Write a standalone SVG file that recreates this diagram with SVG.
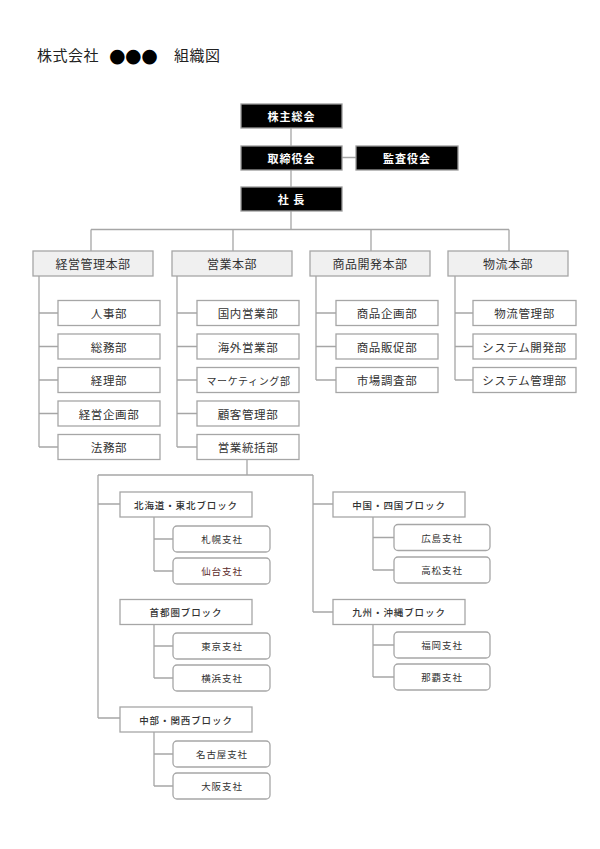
<svg xmlns="http://www.w3.org/2000/svg" width="600" height="849" viewBox="0 0 600 849">
<style>
text{font-family:"Noto Sans CJK JP","Noto Sans",sans-serif;text-anchor:middle;dominant-baseline:central;fill:#333}
.title{text-anchor:start;font-size:15px;fill:#222;dominant-baseline:auto;letter-spacing:0.5px}
.top rect{fill:#000;stroke:#9a9a9a;stroke-width:1.3}
.top text{fill:#fff;font-weight:bold;font-size:11px;letter-spacing:1px}
.dept rect{fill:#f0f0f0;stroke:#a6a6a6;stroke-width:1.3}
.dept text{font-size:12px;letter-spacing:0.5px}
.sub rect{fill:#fff;stroke:#a6a6a6;stroke-width:1.3}
.sub text{font-size:11.5px;letter-spacing:0.6px}
.blk rect{fill:#fff;stroke:#a6a6a6;stroke-width:1.3}
.blk text{font-size:9.5px;letter-spacing:0.9px;font-weight:500}
.br rect{fill:#fff;stroke:#a6a6a6;stroke-width:1.3}
.br text{font-size:9.5px;letter-spacing:0.9px}
#connectors path{fill:none;stroke:#a6a6a6;stroke-width:1.3}
</style>
<text class="title" y="61"><tspan x="37">株式会社</tspan><tspan x="109" y="62" style="font-family:'DejaVu Sans',sans-serif;font-size:19px;letter-spacing:-0.5px;fill:#000">●●●</tspan><tspan x="174" y="61">組織図</tspan></text>

<g id="connectors">
<path d="M291 128V146M342 157.5H356M291 170V187M291 211V229.5M91 229.5H509M91 229.5V251M233 229.5V251M371 229.5V251M509 229.5V251"/>
<path d="M39 276V447M39 313H58M39 346.5H58M39 380H58M39 413.5H58M39 447H58"/>
<path d="M177 276V447M177 313H197M177 346.5H197M177 380H197M177 413.5H197M177 447H197"/>
<path d="M316 276V380M316 313H336M316 346.5H336M316 380H336"/>
<path d="M455 276V380M455 313H473M455 346.5H473M455 380H473"/>
<path d="M247 459.5V475M98 475H313M98 475V718M98 504H120M98 718H120M313 475V612M313 504H333M313 612H333"/>
<path d="M154 517V571M154 539H173M154 571H173"/>
<path d="M154 624.5V678M154 646H173M154 678H173"/>
<path d="M154 732V786M154 754H173M154 786H173"/>
<path d="M373 517V570M373 537.5H394M373 570H394"/>
<path d="M373 624.5V677M373 645H394M373 677H394"/>
</g>

<g id="n-kabunushi" class="top"><rect x="241" y="104" width="101" height="24"/><text x="291.5" y="116">株主総会</text></g>
<g id="n-torishimari" class="top"><rect x="241" y="146" width="101" height="24"/><text x="291.5" y="158">取締役会</text></g>
<g id="n-kansa" class="top"><rect x="356" y="146" width="102" height="24"/><text x="407" y="158">監査役会</text></g>
<g id="n-shacho" class="top"><rect x="241" y="187" width="101" height="24"/><text x="291.5" y="199" xml:space="preserve">社 長</text></g>

<g id="n-keiei" class="dept"><rect x="33" y="251" width="120" height="25"/><text x="93" y="263.5">経営管理本部</text></g>
<g id="n-eigyo" class="dept"><rect x="172" y="251" width="120" height="25"/><text x="232" y="263.5">営業本部</text></g>
<g id="n-shohin" class="dept"><rect x="310" y="251" width="120" height="25"/><text x="370" y="263.5">商品開発本部</text></g>
<g id="n-butsuryu" class="dept"><rect x="448" y="251" width="120" height="25"/><text x="508" y="263.5">物流本部</text></g>

<g id="n-jinji" class="sub"><rect x="58" y="300.5" width="102" height="25"/><text x="109" y="313">人事部</text></g>
<g id="n-somu" class="sub"><rect x="58" y="334" width="102" height="25"/><text x="109" y="346.5">総務部</text></g>
<g id="n-keiri" class="sub"><rect x="58" y="367.5" width="102" height="25"/><text x="109" y="380">経理部</text></g>
<g id="n-keieikikaku" class="sub"><rect x="58" y="401" width="102" height="25"/><text x="109" y="413.5">経営企画部</text></g>
<g id="n-homu" class="sub"><rect x="58" y="434.5" width="102" height="25"/><text x="109" y="447">法務部</text></g>

<g id="n-kokunai" class="sub"><rect x="197" y="300.5" width="102" height="25"/><text x="248" y="313">国内営業部</text></g>
<g id="n-kaigai" class="sub"><rect x="197" y="334" width="102" height="25"/><text x="248" y="346.5">海外営業部</text></g>
<g id="n-marketing" class="sub"><rect x="197" y="367.5" width="102" height="25"/><text x="248.5" y="380" style="font-size:10px;letter-spacing:0.6px">マーケティング部</text></g>
<g id="n-kokyaku" class="sub"><rect x="197" y="401" width="102" height="25"/><text x="248" y="413.5">顧客管理部</text></g>
<g id="n-tokatsu" class="sub"><rect x="197" y="434.5" width="102" height="25"/><text x="248" y="447">営業統括部</text></g>

<g id="n-shohinkikaku" class="sub"><rect x="336" y="300.5" width="102" height="25"/><text x="387" y="313">商品企画部</text></g>
<g id="n-hansoku" class="sub"><rect x="336" y="334" width="102" height="25"/><text x="387" y="346.5">商品販促部</text></g>
<g id="n-chosa" class="sub"><rect x="336" y="367.5" width="102" height="25"/><text x="387" y="380">市場調査部</text></g>

<g id="n-butsuryukanri" class="sub"><rect x="473" y="300.5" width="103" height="25"/><text x="524.5" y="313">物流管理部</text></g>
<g id="n-syskaihatsu" class="sub"><rect x="473" y="334" width="103" height="25"/><text x="524.5" y="346.5">システム開発部</text></g>
<g id="n-syskanri" class="sub"><rect x="473" y="367.5" width="103" height="25"/><text x="524.5" y="380">システム管理部</text></g>

<g id="n-hokkaido" class="blk"><rect x="120" y="492" width="132" height="25"/><text x="186" y="504.5">北海道・東北ブロック</text></g>
<g id="n-shutoken" class="blk"><rect x="120" y="599.5" width="132" height="25"/><text x="186" y="612">首都圏ブロック</text></g>
<g id="n-chubu" class="blk"><rect x="120" y="707" width="132" height="25"/><text x="186" y="719.5">中部・関西ブロック</text></g>
<g id="n-chugoku" class="blk"><rect x="333" y="492" width="132" height="25"/><text x="399" y="504.5">中国・四国ブロック</text></g>
<g id="n-kyushu" class="blk"><rect x="333" y="599.5" width="132" height="25"/><text x="399" y="612">九州・沖縄ブロック</text></g>

<g id="n-sapporo" class="br"><rect x="173" y="526" width="97" height="26" rx="4"/><text x="222" y="539">札幌支社</text></g>
<g id="n-sendai" class="br"><rect x="173" y="558" width="97" height="26" rx="4"/><text x="222" y="571" style="fill:#5a2a2a">仙台支社</text></g>
<g id="n-tokyo" class="br"><rect x="173" y="633" width="97" height="26" rx="4"/><text x="222" y="646">東京支社</text></g>
<g id="n-yokohama" class="br"><rect x="173" y="665" width="97" height="26" rx="4"/><text x="222" y="678">横浜支社</text></g>
<g id="n-nagoya" class="br"><rect x="173" y="741" width="97" height="26" rx="4"/><text x="222" y="754">名古屋支社</text></g>
<g id="n-osaka" class="br"><rect x="173" y="773" width="97" height="26" rx="4"/><text x="222" y="786">大阪支社</text></g>
<g id="n-hiroshima" class="br"><rect x="394" y="524.5" width="96" height="26" rx="4"/><text x="442" y="537.5">広島支社</text></g>
<g id="n-takamatsu" class="br"><rect x="394" y="557" width="96" height="26" rx="4"/><text x="442" y="570">高松支社</text></g>
<g id="n-fukuoka" class="br"><rect x="394" y="632" width="96" height="26" rx="4"/><text x="442" y="645">福岡支社</text></g>
<g id="n-naha" class="br"><rect x="394" y="664" width="96" height="26" rx="4"/><text x="442" y="677">那覇支社</text></g>
</svg>
